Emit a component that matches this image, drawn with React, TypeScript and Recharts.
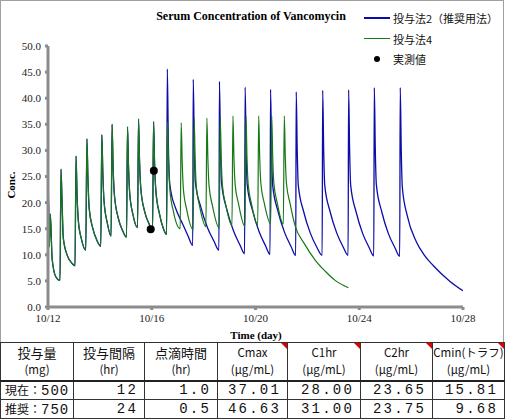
import { ComposedChart, Line, XAxis, YAxis } from 'recharts';

// days counted from 10/12
const tickDays = [0, 4, 8, 12, 16];
const tickLabels = ['10/12', '10/16', '10/20', '10/24', '10/28'];
const concTicks = [0, 5, 10, 15, 20, 25, 30, 35, 40, 45, 50];

// common history (both regimens identical up to 10/16)
const historyCurve: [number, number][] = [
  [0, 0], [0.02, 21.4], [0.05, 11.5], [0.09, 17.8], [0.16, 9.2], [0.3, 5.8],
  [0.463, 5.1], [0.5, 26.4], [0.54, 20.5], [0.59, 13.2], [0.75, 9.8], [0.92, 8.4],
  [1.042, 7.9], [1.08, 28.9], [1.12, 21.5], [1.17, 16.5], [1.29, 13.0],
  [1.456, 10.9], [1.5, 32.2], [1.54, 24.5], [1.59, 18.8], [1.72, 15.2], [1.9, 12.6],
  [2.035, 11.6], [2.075, 33.0], [2.115, 25.5], [2.16, 20.3], [2.29, 16.0],
  [2.432, 13.6], [2.47, 35.0], [2.51, 26.8], [2.56, 21.5], [2.7, 17.2], [2.88, 14.6],
  [3.027, 13.4], [3.065, 34.5], [3.105, 26.8], [3.15, 21.8], [3.28, 17.6],
  [3.452, 15.2], [3.49, 36.0], [3.53, 27.8], [3.58, 22.6], [3.72, 18.4], [3.9, 15.9],
  [4.031, 14.8], [4.07, 35.5], [4.11, 27.4], [4.16, 22.2], [4.3, 17.8], [4.45, 15.0],
  [4.571, 13.9],
];

// 投与法4 : 500mg q12h continued
const currentCurve: [number, number][] = [
  [4.61, 35.4], [4.65, 27.5], [4.7, 22.4], [4.83, 18.4],
  [5.097, 15.0], [5.135, 35.3], [5.175, 27.6], [5.22, 22.6], [5.35, 18.6],
  [5.598, 14.8], [5.635, 36.0], [5.675, 28.0], [5.72, 23.0], [5.85, 19.2],
  [6.089, 15.4], [6.125, 36.2], [6.165, 28.2], [6.21, 23.2], [6.34, 19.4],
  [6.602, 15.1], [6.64, 36.3], [6.68, 28.3], [6.725, 23.3], [6.855, 19.5],
  [7.093, 15.6], [7.13, 36.6], [7.17, 28.4], [7.215, 23.5], [7.345, 19.8],
  [7.595, 15.4], [7.633, 36.5], [7.673, 28.4], [7.718, 23.5], [7.848, 19.7],
  [8.085, 15.7], [8.123, 36.6], [8.163, 28.5], [8.208, 23.6], [8.338, 19.9],
  [8.587, 15.9], [8.625, 36.6], [8.665, 28.5], [8.71, 23.6], [8.84, 19.9],
  [9.073, 15.9], [9.11, 36.6], [9.15, 28.5], [9.195, 23.6], [9.33, 19.9],
  [9.52, 15.7], [9.9, 12.0], [10.3, 9.0], [10.7, 6.8], [11.07, 5.1], [11.58, 3.7],
];

// 投与法2 : 750mg q24h (recommended)
const recommendedCurve: [number, number][] = [
  [4.6, 45.6], [4.64, 31.5], [4.68, 24.5], [4.75, 21.8], [4.9, 19.2], [5.2, 15.8], [5.4, 13.6],
  [5.58, 11.8], [5.6, 43.6], [5.64, 31.0], [5.68, 24.0], [5.9, 19.0], [6.15, 15.2], [6.4, 12.6],
  [6.59, 10.9], [6.61, 43.2], [6.65, 30.5], [6.69, 23.8], [6.9, 18.6], [7.15, 14.6], [7.4, 11.9],
  [7.58, 10.2], [7.6, 42.1], [7.64, 30.0], [7.68, 23.5], [7.89, 18.4], [8.14, 14.4], [8.39, 11.7],
  [8.56, 10.1], [8.58, 41.7], [8.62, 29.8], [8.66, 23.4], [8.87, 18.3], [9.12, 14.3], [9.37, 11.6],
  [9.55, 9.9], [9.57, 41.2], [9.61, 29.6], [9.65, 23.3], [9.86, 18.2], [10.11, 14.2], [10.36, 11.5],
  [10.57, 9.9], [10.59, 41.5], [10.63, 29.7], [10.67, 23.3], [10.88, 18.2], [11.13, 14.2], [11.38, 11.5],
  [11.57, 9.9], [11.59, 41.6], [11.63, 29.7], [11.67, 23.3], [11.88, 18.2], [12.13, 14.1], [12.38, 11.4],
  [12.56, 9.8], [12.58, 42.0], [12.62, 29.8], [12.66, 23.4], [12.87, 18.2], [13.12, 14.1], [13.37, 11.4],
  [13.56, 9.7], [13.58, 42.0], [13.62, 29.8], [13.66, 23.0], [13.85, 17.5], [14.2, 12.5],
  [14.5, 10.0], [14.86, 7.9], [15.5, 4.9], [16.0, 3.1],
];

// 実測値
const measuredDays = [3.96, 4.08];
const measuredConc = [14.9, 26.1];

// table
const headerMain = ['投与量', '投与間隔', '点滴時間', 'Cmax', 'C1hr', 'C2hr', 'Cmin(トラフ)'];
const headerUnit = ['(mg)', '(hr)', '(hr)', '(μg/mL)', '(μg/mL)', '(μg/mL)', '(μg/mL)'];
const rowCurrent = ['現在：500', '12', '1.0', '37.01', '28.00', '23.65', '15.81'];
const rowRecommended = ['推奨：750', '24', '0.5', '46.63', '31.00', '23.75', '9.68'];
const colWidths = [73, 71, 73, 70, 73, 72, 72];

const BLUE = '#0c0ca8';
const GREEN = '#167816';
const SERIF = '"Liberation Serif", "Times New Roman", serif';
const JP = '"Noto Sans CJK JP", sans-serif';

const toPoints = (pts: [number, number][]) => pts.map(([day, conc]) => ({ day, conc }));

const blueData = toPoints([...historyCurve, ...recommendedCurve]);
const greenData = toPoints([...historyCurve, ...currentCurve]);
const measuredData = measuredDays.map((day, i) => ({ day, conc: measuredConc[i] }));

const legendItems = [
  { label: '投与法2（推奨用法）', color: BLUE, kind: 'line' },
  { label: '投与法4', color: GREEN, kind: 'line' },
  { label: '実測値', color: '#000', kind: 'dot' },
];

const Corner = () => (
  <div
    style={{
      position: 'absolute', right: 0, top: 0, width: 0, height: 0,
      borderTop: '6px solid #e00000', borderLeft: '6px solid transparent',
    }}
  />
);

export default function App() {
  const cell = { border: '1px solid #333', padding: 0, position: 'relative' as const, boxSizing: 'border-box' as const };
  const numStyle = {
    fontFamily: '"Liberation Mono", monospace', fontSize: 14, letterSpacing: 2.2,
    textAlign: 'right' as const, paddingRight: 6, height: 19, lineHeight: '15px',
  };

  return (
    <div style={{ position: 'fixed', left: 0, top: 0, width: 505, height: 420, background: '#fff', overflow: 'hidden' }}>
      <div style={{ position: 'absolute', left: 0, top: 0, width: 502, height: 341, border: '1px solid #a0a0a0' }} />

      <div style={{ position: 'absolute', left: 0, top: 0 }}>
        <ComposedChart width={505} height={342} margin={{ top: 46, right: 42, bottom: 5, left: 8 }}>
          <XAxis
            dataKey="day" type="number" domain={[0, 16]} ticks={tickDays} allowDataOverflow
            tickFormatter={(v: number) => tickLabels[tickDays.indexOf(v)]}
            height={30} stroke="#8c8c8c" strokeWidth={3} tickSize={3} tickMargin={4}
            tick={{ fill: '#222', fontSize: 11, fontFamily: SERIF }}
          />
          <YAxis
            type="number" domain={[0, 50]} ticks={concTicks} allowDataOverflow
            tickFormatter={(v: number) => v.toFixed(1)}
            width={40} stroke="#8c8c8c" strokeWidth={3} tickSize={3} tickMargin={4}
            tick={{ fill: '#222', fontSize: 11, fontFamily: SERIF }}
          />
          <Line data={blueData} dataKey="conc" type="monotone" stroke={BLUE} strokeWidth={1.3} dot={false} isAnimationActive={false} />
          <Line data={greenData} dataKey="conc" type="monotone" stroke={GREEN} strokeWidth={1.2} dot={false} isAnimationActive={false} />
          <Line
            data={measuredData} dataKey="conc" stroke="none"
            dot={{ r: 4, fill: '#000', stroke: '#000', strokeWidth: 0 }}
            isAnimationActive={false}
          />
        </ComposedChart>
      </div>

      <div style={{ position: 'absolute', left: 150, top: 9, width: 202, textAlign: 'center', fontFamily: SERIF, fontWeight: 'bold', fontSize: 12, whiteSpace: 'nowrap' }}>
        Serum Concentration of Vancomycin
      </div>

      {legendItems.map((item, i) => (
        <div key={item.label} style={{ position: 'absolute', left: 362, top: 9 + i * 20.5, height: 18, display: 'flex', alignItems: 'center' }}>
          <div style={{ width: 30, display: 'flex', justifyContent: 'center' }}>
            {item.kind === 'line'
              ? <div style={{ width: 26, height: 1.3, background: item.color }} />
              : <div style={{ width: 6, height: 6, borderRadius: 3, background: item.color }} />}
          </div>
          <span style={{ fontFamily: JP, fontSize: 11, marginLeft: 1, color: '#111' }}>{item.label}</span>
        </div>
      ))}

      <div style={{ position: 'absolute', left: 11, top: 185, transform: 'translate(-50%, -50%) rotate(-90deg)', fontFamily: SERIF, fontWeight: 'bold', fontSize: 11, whiteSpace: 'nowrap' }}>
        Conc.
      </div>
      <div style={{ position: 'absolute', left: 256, top: 335, transform: 'translate(-50%, -50%)', fontFamily: SERIF, fontWeight: 'bold', fontSize: 11, whiteSpace: 'nowrap' }}>
        Time (day)
      </div>

      <table style={{ position: 'absolute', left: 0, top: 342, borderCollapse: 'collapse', tableLayout: 'fixed', width: 504, color: '#111' }}>
        <colgroup>
          {colWidths.map((w, i) => <col key={i} style={{ width: w }} />)}
        </colgroup>
        <tbody>
          <tr>
            {headerMain.map((h, i) => (
              <td key={h} style={{ ...cell, height: 38, borderBottom: '2px solid #222', textAlign: 'center', fontFamily: JP, whiteSpace: 'nowrap' }}>
                {i >= 3 && <Corner />}
                <div style={{ fontSize: i < 3 ? 13 : 11.5, lineHeight: '17px', height: 17 }}>{h}</div>
                <div style={{ fontSize: 11.5, lineHeight: '17px', height: 17 }}>{headerUnit[i]}</div>
              </td>
            ))}
          </tr>
          {[rowCurrent, rowRecommended].map((row, r) => (
            <tr key={r}>
              {row.map((v, i) => (
                <td key={i} style={{ ...cell, ...numStyle, ...(i === 0 ? { textAlign: 'left', paddingLeft: 4, paddingRight: 0, letterSpacing: 1 } : {}) }}>
                  {i === 0 ? (
                    <span>
                      <span style={{ fontFamily: JP, fontSize: 12, letterSpacing: 0, lineHeight: '15px' }}>{v.slice(0, 3)}</span>
                      {v.slice(3)}
                    </span>
                  ) : v}
                </td>
              ))}
            </tr>
          ))}
        </tbody>
      </table>
    </div>
  );
}
